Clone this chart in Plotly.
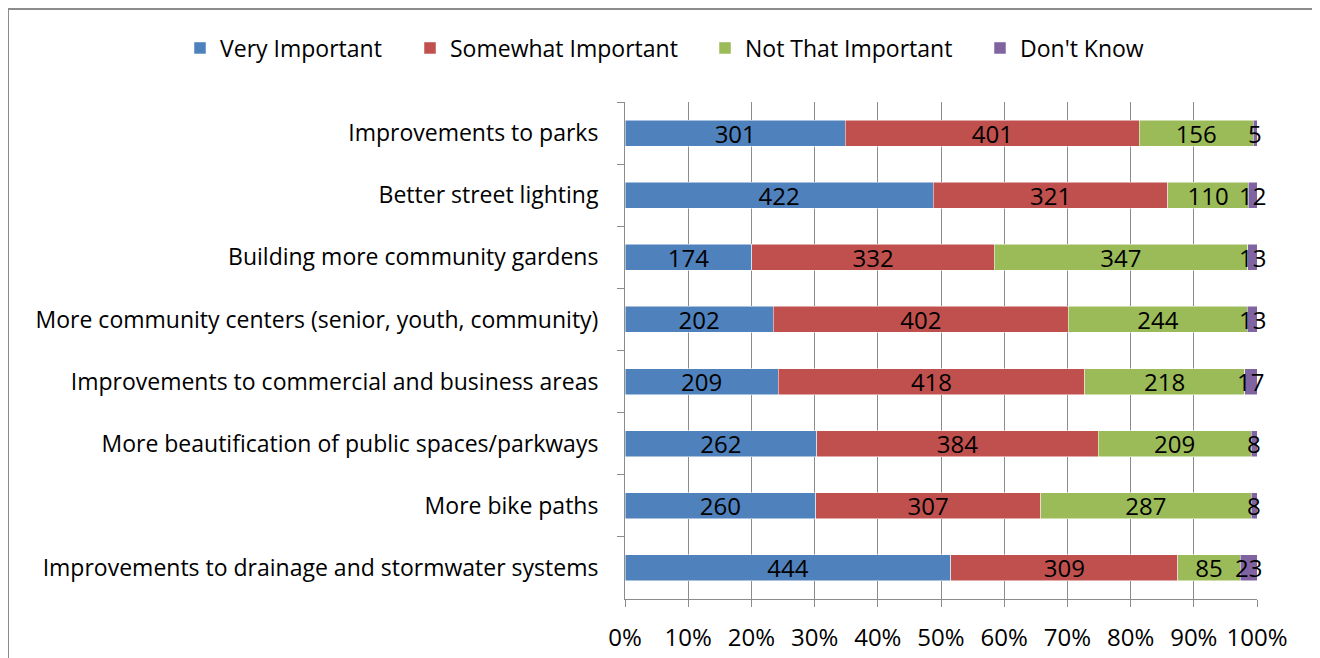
import plotly.graph_objects as go

categories = [
    "Improvements to parks",
    "Better street lighting",
    "Building more community gardens",
    "More community centers (senior, youth, community)",
    "Improvements to commercial and business areas",
    "More beautification of public spaces/parkways",
    "More bike paths",
    "Improvements to drainage and stormwater systems",
]
very_important = [301, 422, 174, 202, 209, 262, 260, 444]
somewhat_important = [401, 321, 332, 402, 418, 384, 307, 309]
not_that_important = [156, 110, 347, 244, 218, 209, 287, 85]
dont_know = [5, 12, 13, 13, 17, 8, 8, 23]

series = [
    ("Very Important", very_important, "#4F81BD"),
    ("Somewhat Important", somewhat_important, "#C0504D"),
    ("Not That Important", not_that_important, "#9BBB59"),
    ("Don't Know", dont_know, "#8064A2"),
]
# page x where each legend entry's square starts
legend_x_page = [195, 425, 720, 995]

FONT = "Open Sans"
TXT = 23
NUM = 24

OFF = 8  # body margin of the page
W, H = 1312, 650
L, R, T, B = 617, 63, 94, 59
pw, ph = W - L - R, H - T - B


def px(xpage):
    return (xpage - OFF - L) / pw


def py(ypage):
    return (H - B - (ypage - OFF)) / ph


fig = go.Figure()
for i, (name, vals, color) in enumerate(series):
    lg = "legend" if i == 0 else f"legend{i + 1}"
    last = i == len(series) - 1
    fig.add_trace(go.Bar(
        name=name, y=categories, x=vals, orientation="h",
        marker=dict(color=color, line=dict(color="white", width=0.5)),
        text=None if last else [str(v) for v in vals],
        textposition="none" if last else "inside",
        insidetextanchor="middle", textangle=0,
        textfont=dict(color="black", size=NUM, family=FONT),
        constraintext="none", cliponaxis=False, legend=lg,
    ))

# labels of the thin "Don't Know" segments, centred on each segment
totals = [a + b + c + d for a, b, c, d in zip(very_important, somewhat_important,
                                                not_that_important, dont_know)]
dk_mid = [100.0 * (t - d / 2.0) / t for t, d in zip(totals, dont_know)]
annotations = [
    dict(x=xm, y=cat, xref="x", yref="y", text=str(v), showarrow=False,
         xanchor="center", yanchor="middle", yshift=0,
         font=dict(color="black", size=NUM, family=FONT))
    for xm, cat, v in zip(dk_mid, categories, dont_know)
]

legends = {}
for i, xp in enumerate(legend_x_page):
    key = "legend" if i == 0 else f"legend{i + 1}"
    legends[key] = dict(
        orientation="h", xref="container", yref="container",
        x=(xp - OFF - 15) / W, xanchor="left",
        y=1 - (48 - OFF) / H, yanchor="middle",
        font=dict(size=TXT, family=FONT, color="black"),
        itemwidth=30, bgcolor="rgba(0,0,0,0)", borderwidth=0,
    )

fig.update_layout(
    width=W, height=H,
    barmode="stack", barnorm="percent", bargap=0.58,
    margin=dict(l=L, r=R, t=T, b=B, autoexpand=False),
    paper_bgcolor="white", plot_bgcolor="white",
    font=dict(family=FONT, size=TXT, color="black"),
    uniformtext=dict(minsize=NUM, mode="show"),
    showlegend=True,
    annotations=annotations,
    xaxis=dict(range=[0, 100], tickvals=list(range(0, 101, 10)),
               ticktext=[f"{v}%" for v in range(0, 101, 10)],
               showgrid=True, gridcolor="#8c8c8c", gridwidth=1,
               showline=True, linecolor="#8c8c8c", linewidth=1,
               ticks="outside", ticklen=7, tickcolor="#8c8c8c",
               zeroline=False, ticklabelstandoff=10,
               tickfont=dict(size=NUM, family=FONT)),
    yaxis=dict(autorange="reversed", type="category", tickson="boundaries",
               showgrid=False, showline=True, linecolor="#8c8c8c", linewidth=1,
               ticks="outside", ticklen=7, tickcolor="#8c8c8c",
               ticklabelstandoff=21, tickfont=dict(size=TXT, family=FONT)),
    shapes=[dict(type="rect", xref="paper", yref="paper",
                 x0=px(8), x1=px(1315), y0=py(680), y1=py(9),
                 line=dict(color="#8c8c8c", width=2), layer="below")],
    **legends,
)

fig.write_html("out.html")
